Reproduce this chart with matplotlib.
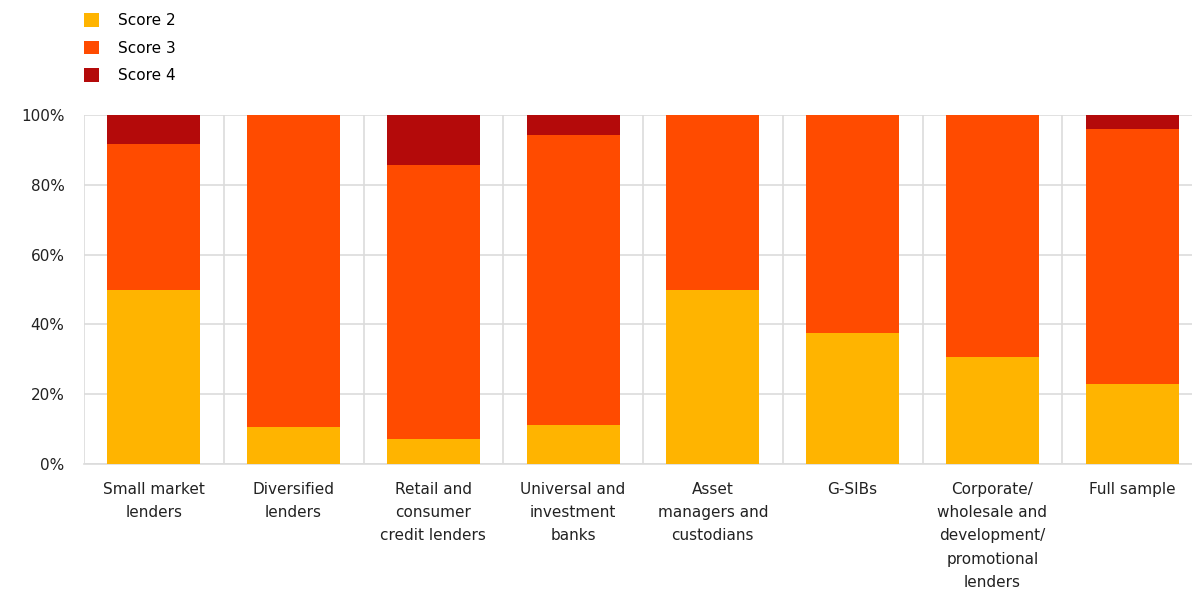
import numpy as np
import matplotlib
matplotlib.use("Agg")
from matplotlib import pyplot as plt
from matplotlib.patches import Patch
from matplotlib.ticker import FixedLocator, PercentFormatter

categories = [
    "Small market\nlenders",
    "Diversified\nlenders",
    "Retail and\nconsumer\ncredit lenders",
    "Universal and\ninvestment\nbanks",
    "Asset\nmanagers and\ncustodians",
    "G-SIBs",
    "Corporate/\nwholesale and\ndevelopment/\npromotional\nlenders",
    "Full sample",
]
score2 = [50.0, 10.7, 7.1, 11.1, 50.0, 37.5, 30.8, 22.8]
score3 = [41.7, 89.3, 78.6, 83.3, 50.0, 62.5, 69.2, 73.3]
score4 = [8.3, 0.0, 14.3, 5.6, 0.0, 0.0, 0.0, 3.9]

series = [("Score 2", score2, "#FFB400"),
          ("Score 3", score3, "#FF4B00"),
          ("Score 4", score4, "#B40A0A")]

plt.rcParams["font.family"] = ["DejaVu Sans"]
W, H = 1192, 589
fig = plt.figure(figsize=(W / 100, H / 100), dpi=100)
ax = fig.add_axes([84 / W, 125 / H, 1118 / W, 349 / H])

x = np.arange(len(categories))
bottom = np.zeros(len(categories))
for name, vals, col in series:
    ax.bar(x, vals, width=0.665, bottom=bottom, color=col, label=name, zorder=3)
    bottom += np.array(vals)

ax.set_xlim(-0.5, len(categories) - 0.5)
ax.set_ylim(0, 100)
ax.set_yticks(np.arange(0, 101, 20))
ax.yaxis.set_major_formatter(PercentFormatter(decimals=0))
ax.set_xticks(x)
ax.set_xticklabels(categories, linespacing=1.68)
ax.xaxis.set_minor_locator(FixedLocator(np.arange(-0.5, len(categories), 1.0)))

ax.grid(axis="y", which="major", color="#dcdcdc", lw=1.2, zorder=0)
ax.grid(axis="x", which="minor", color="#dcdcdc", lw=1.2, zorder=0)
ax.grid(axis="x", which="major", visible=False)
for s in ["top", "right", "left"]:
    ax.spines[s].set_visible(False)
ax.spines["bottom"].set_color("#dcdcdc")
ax.spines["bottom"].set_linewidth(1.2)

ax.tick_params(axis="both", which="both", length=0, labelsize=11, colors="#222222")
ax.tick_params(axis="y", pad=14)
ax.tick_params(axis="x", pad=13)

handles = [Patch(facecolor=c, label=n) for n, _, c in series]
fig.legend(handles=handles, loc="upper left", bbox_to_anchor=(84 / W, 1 - 13 / H),
           frameon=False, fontsize=11, handlelength=1.0, handleheight=1.0,
           labelspacing=0.82, handletextpad=1.2, borderpad=0, borderaxespad=0)

fig.savefig("out.png", dpi=100)
